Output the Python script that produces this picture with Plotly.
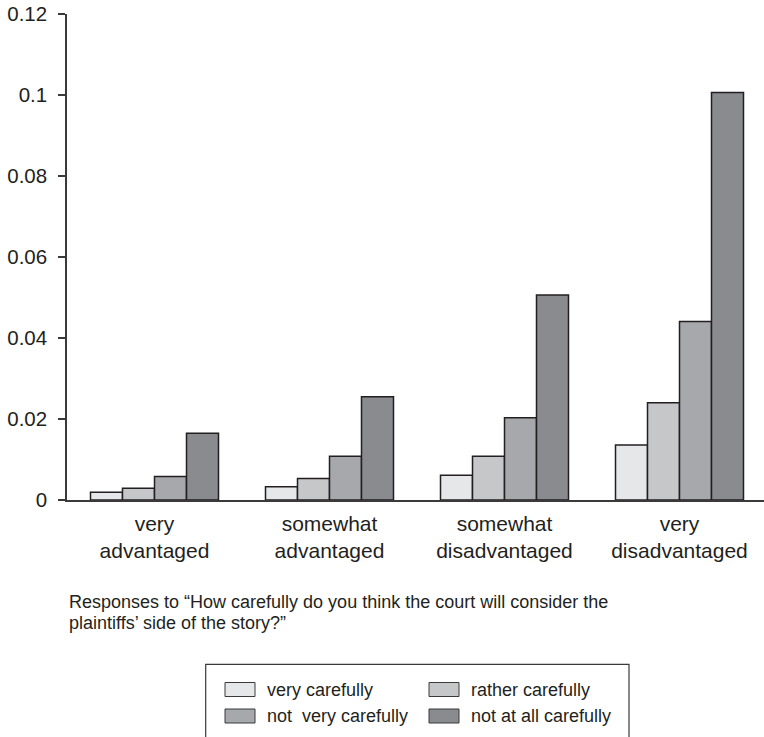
import plotly.graph_objects as go

categories = ["very<br>advantaged", "somewhat<br>advantaged",
              "somewhat<br>disadvantaged", "very<br>disadvantaged"]
series_names = ["very carefully", "rather carefully",
                "not  very carefully", "not at all carefully"]
very_carefully = [0.0019, 0.0033, 0.0061, 0.0136]
rather_carefully = [0.0029, 0.0053, 0.0108, 0.0240]
not_very_carefully = [0.0058, 0.0108, 0.0203, 0.0441]
not_at_all_carefully = [0.0165, 0.0255, 0.0506, 0.1006]
ytick_vals = [0, 0.02, 0.04, 0.06, 0.08, 0.1, 0.12]
ytick_text = ["0", "0.02", "0.04", "0.06", "0.08", "0.1", "0.12"]
caption_lines = ["Responses to \u201cHow carefully do you think the court will consider the",
                 "plaintiffs\u2019 side of the story?\u201d"]

values = [very_carefully, rather_carefully, not_very_carefully, not_at_all_carefully]
colors = ["#e6e7e8", "#c6c7c9", "#a7a8ac", "#8a8b8f"]
ink = "#231f20"
FONT = "Liberation Sans"

W, H = 764, 737
L, R, T, B = 67, 0, 14, 237
PW, PH = W - L - R, H - T - B


def px(x):
    return (x - L) / PW


def py(y):
    return (H - B - y) / PH


fig = go.Figure()
xs = list(range(len(categories)))
for name, vals, col in zip(series_names, values, colors):
    fig.add_trace(go.Bar(x=xs, y=vals, name=name,
                         marker=dict(color=col, line=dict(color=ink, width=1.5)),
                         showlegend=False))

fig.update_layout(
    width=W, height=H,
    margin=dict(l=L, r=R, t=T, b=B, pad=0),
    barmode="group", bargap=47 / 175, bargroupgap=0,
    plot_bgcolor="white", paper_bgcolor="white",
    font=dict(family=FONT, color=ink, size=20.5),
    xaxis=dict(range=[-0.5, (W - L) / 175 - 0.5], tickvals=xs, ticktext=categories,
               showline=True, linecolor="#3a3a3a", linewidth=1.5, ticks="",
               showgrid=False, zeroline=False, tickfont=dict(size=21, color=ink),
               ticklabelstandoff=4),
    yaxis=dict(range=[0, 0.12], tickvals=ytick_vals, ticktext=ytick_text,
               showline=True, linecolor="#3a3a3a", linewidth=1.5, ticks="outside",
               ticklen=7, tickwidth=1.5, tickcolor="#3a3a3a", showgrid=False,
               zeroline=False, tickfont=dict(size=20.5, color=ink),
               ticklabelstandoff=7),
)

# caption
for i, (line, yc) in enumerate(zip(caption_lines, [602, 623])):
    fig.add_annotation(x=px(67), y=py(yc), xref="paper", yref="paper", text=line,
                       showarrow=False, xanchor="left", yanchor="middle",
                       font=dict(size=18, color=ink, family=FONT))

# legend (drawn manually)
fig.add_shape(type="rect", xref="paper", yref="paper",
              x0=px(205.7), x1=px(629), y0=py(664.3), y1=py(750),
              line=dict(color="#3a3a3a", width=1.2), fillcolor="rgba(0,0,0,0)")
legend_pos = [(225, 689.5), (429, 689.5), (225, 716), (429, 716)]
for name, col, (lx, ly) in zip(series_names, colors, legend_pos):
    fig.add_shape(type="rect", xref="paper", yref="paper",
                  x0=px(lx), x1=px(lx + 30), y0=py(ly - 7), y1=py(ly + 7),
                  line=dict(color="#3a3a3a", width=1), fillcolor=col)
    fig.add_annotation(x=px(lx + 40), y=py(ly), xref="paper", yref="paper", text=name,
                       showarrow=False, xanchor="left", yanchor="middle",
                       font=dict(size=18, color=ink, family=FONT))

fig.write_html("out.html", config={"displayModeBar": False},
               post_script="document.body.style.margin='0';document.body.style.overflow='hidden';")
